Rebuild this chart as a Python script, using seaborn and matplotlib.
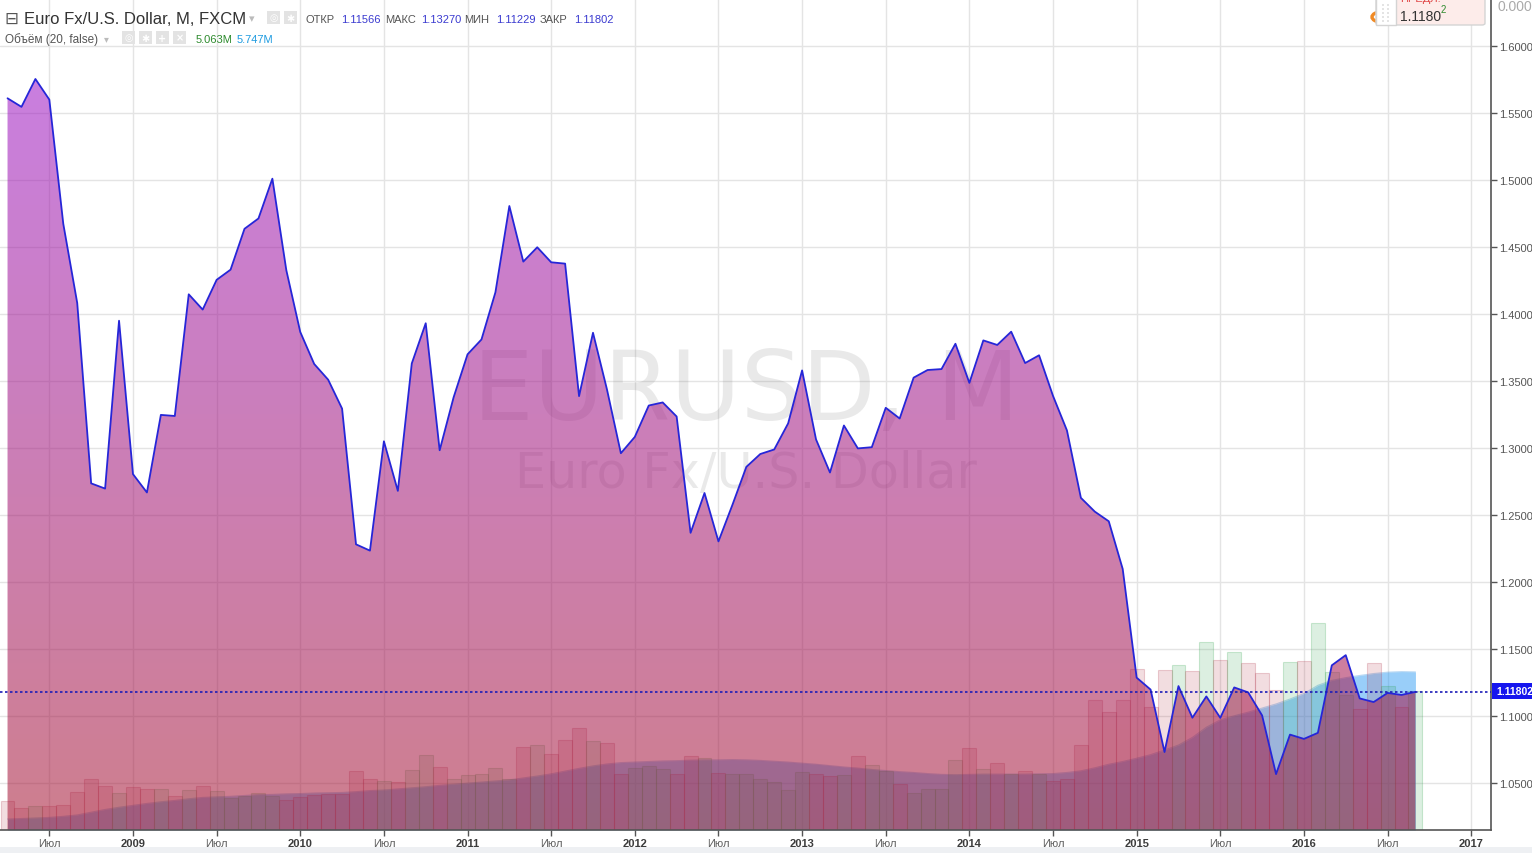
"""
plot.py
EURUSD monthly (FXCM) area chart with volume + 20-period volume MA,
TradingView-like look.
"""

import numpy as np
import pandas as pd
import matplotlib
matplotlib.use("Agg")
import matplotlib.pyplot as plt
from matplotlib.patches import Rectangle, FancyBboxPatch, Circle
import seaborn as sns

W, H = 1532, 854

# ─── Data (monthly, Apr 2008 .. Sep 2016) ──────────────────────────────────────
close_2008 = [1.5610, 1.5546, 1.5754, 1.5600, 1.4673, 1.4082, 1.2736, 1.2697, 1.3950]
close_2009 = [1.2805, 1.2668, 1.3247, 1.3239, 1.4147, 1.4033, 1.4255, 1.4331, 1.4636, 1.4713, 1.5010, 1.4327]
close_2010 = [1.3866, 1.3627, 1.3510, 1.3294, 1.2281, 1.2234, 1.3050, 1.2680, 1.3631, 1.3931, 1.2983, 1.3378]
close_2011 = [1.3699, 1.3810, 1.4162, 1.4806, 1.4391, 1.4498, 1.4386, 1.4376, 1.3387, 1.3860, 1.3438, 1.2961]
close_2012 = [1.3083, 1.3317, 1.3340, 1.3235, 1.2367, 1.2664, 1.2303, 1.2575, 1.2859, 1.2955, 1.2989, 1.3184]
close_2013 = [1.3579, 1.3064, 1.2817, 1.3168, 1.2997, 1.3006, 1.3300, 1.3220, 1.3525, 1.3582, 1.3589, 1.3778]
close_2014 = [1.3486, 1.3803, 1.3769, 1.3868, 1.3634, 1.3692, 1.3389, 1.3131, 1.2628, 1.2525, 1.2453, 1.2097]
close_2015 = [1.1286, 1.1197, 1.0731, 1.1223, 1.0987, 1.1146, 1.0986, 1.1213, 1.1176, 1.1004, 1.0566, 1.0861]
close_2016 = [1.0829, 1.0874, 1.1378, 1.1454, 1.1131, 1.1104, 1.1172, 1.1157, 1.1180]
close = np.array(close_2008 + close_2009 + close_2010 + close_2011 + close_2012
                 + close_2013 + close_2014 + close_2015 + close_2016)
prev_close_mar_2008 = 1.5787

# volume, millions
volume = np.array([
    1.05, 0.79, 0.86, 0.86, 0.90, 1.38, 1.85, 1.59, 1.34,
    1.56, 1.49, 1.49, 1.23, 1.45, 1.59, 1.41, 1.18, 1.25, 1.34, 1.23, 1.08,
    1.19, 1.27, 1.30, 1.30, 2.15, 1.85, 1.78, 1.74, 2.19, 2.73, 2.29, 1.85,
    2.00, 2.03, 2.26, 1.85, 3.02, 3.09, 2.76, 3.27, 3.71, 3.24, 3.16, 2.03,
    2.25, 2.32, 2.22, 2.03, 2.69, 2.62, 2.07, 2.03, 2.03, 1.85, 1.74, 1.46,
    2.11, 2.03, 1.96, 2.00, 2.69, 2.36, 2.14, 1.68, 1.34, 1.49, 1.49, 2.54,
    2.98, 2.22, 2.43, 2.03, 2.14, 2.03, 1.78, 1.85, 3.09, 4.74, 4.32, 4.74,
    5.88, 4.50, 5.84, 6.02, 5.80, 6.85, 6.20, 6.49, 6.09, 5.73, 5.12, 6.13,
    6.17, 7.55, 5.76, 4.94, 4.42, 6.09, 5.24, 4.48, 5.06,
])

# volume MA(20), millions
volume_ma = np.array([
    0.40, 0.42, 0.44, 0.46, 0.50, 0.55, 0.65, 0.75, 0.83,
    0.90, 0.97, 1.03, 1.08, 1.14, 1.19, 1.21, 1.23, 1.26, 1.29, 1.30, 1.32,
    1.33, 1.35, 1.36, 1.37, 1.40, 1.44, 1.46, 1.50, 1.54, 1.58, 1.63, 1.67,
    1.71, 1.75, 1.79, 1.83, 1.90, 1.97, 2.05, 2.15, 2.25, 2.34, 2.41, 2.46,
    2.48, 2.50, 2.52, 2.53, 2.55, 2.56, 2.56, 2.57, 2.56, 2.54, 2.51, 2.48,
    2.44, 2.40, 2.35, 2.30, 2.26, 2.21, 2.17, 2.13, 2.10, 2.06, 2.03, 2.02,
    2.03, 2.04, 2.04, 2.04, 2.04, 2.05, 2.06, 2.10, 2.16, 2.27, 2.40, 2.50,
    2.62, 2.75, 2.92, 3.10, 3.38, 3.75, 4.02, 4.17, 4.30, 4.45, 4.60, 4.78,
    4.98, 5.28, 5.46, 5.56, 5.64, 5.71, 5.76, 5.78, 5.77,
])

price_levels = [1.05, 1.10, 1.15, 1.20, 1.25, 1.30, 1.35, 1.40, 1.45, 1.50, 1.55, 1.60]
last_price = 1.11802
month_word = "Июл"

header_title = "Euro Fx/U.S. Dollar, M, FXCM"
ohlc_labels = ["ОТКР", "МАКС", "МИН", "ЗАКР"]
ohlc_values = ["1.11566", "1.13270", "1.11229", "1.11802"]
vol_title = "Объём (20, false)"
vol_last, vol_ma_last = "5.063M", "5.747M"

# ─── Helpers ───────────────────────────────────────────────────────────────────
def fx(px):
    return px / W


def fy(py):
    return 1 - py / H


FONT = ["Liberation Sans", "DejaVu Sans"]

sns.set_theme(style="white")
plt.rcParams["font.family"] = FONT

idx = np.arange(len(close))
months = pd.date_range("2008-04-01", periods=len(close) + 12, freq="MS")
x_lo, x_hi = -0.54, 106.42
p_lo, p_hi = 1.0149, 1.6351
v_hi = 831 / 27.4

fig = plt.figure(figsize=(W / 100, H / 100), dpi=100)
fig.patch.set_facecolor("white")
rect = [0, 23 / H, 1491 / W, 831 / H]
ax = fig.add_axes(rect)     # grid + time axis
vax = ax.twinx()            # volume + MA + watermark
lax = ax.twinx()            # price area, line, price scale

# ─── Grid / time axis ──────────────────────────────────────────────────────────
ax.set_xlim(x_lo, x_hi)
ax.set_ylim(p_lo, p_hi)
tick_pos, tick_lab, tick_bold = [], [], []
for i, m in enumerate(months):
    if i > x_hi:
        break
    if m.month == 1:
        tick_pos.append(i); tick_lab.append(str(m.year)); tick_bold.append(True)
    elif m.month == 7:
        tick_pos.append(i); tick_lab.append(month_word); tick_bold.append(False)
ax.set_xticks(tick_pos)
ax.set_xticklabels(tick_lab)
for lab, b in zip(ax.get_xticklabels(), tick_bold):
    lab.set_fontweight("bold" if b else "normal")
    lab.set_color("#3c3c3c" if b else "#606060")
    lab.set_fontsize(8)
ax.set_yticks(price_levels)
ax.tick_params(axis="y", left=False, labelleft=False)
ax.tick_params(axis="x", bottom=True, direction="out", length=4, width=1,
               color="#555555", pad=2)
ax.grid(True, color="#e4e4e4", lw=1)
ax.set_axisbelow(True)
for s in ax.spines.values():
    s.set_visible(False)

# ─── Volume bars + MA area ─────────────────────────────────────────────────────
up = np.r_[close[0] > prev_close_mar_2008, np.diff(close) > 0]
red = np.array([175, 45, 65]) / 255
green = np.array([40, 160, 70]) / 255
face = [(*(green if u else red), 0.16) for u in up]
edge = [(*(green if u else red), 0.22) for u in up]

vax.fill_between(idx, 0, volume_ma, color=(33 / 255, 150 / 255, 243 / 255, 0.46),
                 lw=0, zorder=2)
sns.lineplot(x=idx, y=volume_ma, ax=vax, color=(0.10, 0.50, 0.85, 0.30), lw=0.8, zorder=2)
vax.bar(idx, volume, width=1.0, color=face, edgecolor=edge, linewidth=0.8, zorder=3)
vax.set_xlim(x_lo, x_hi)
vax.set_ylim(0, v_hi)
vax.set_yticks([])
vax.set_ylabel("")
for s in vax.spines.values():
    s.set_visible(False)

# watermark (below the price area)
wm_color = (0.35, 0.35, 0.35, 0.13)
vax.text(fx(746), fy(420), "EURUSD, M", transform=fig.transFigure, ha="center",
         va="baseline", fontsize=69, color=wm_color, family="DejaVu Sans", zorder=4)
vax.text(fx(746), fy(488), "Euro Fx/U.S. Dollar", transform=fig.transFigure,
         ha="center", va="baseline", fontsize=35.5, color=wm_color,
         family="DejaVu Sans", zorder=4)

# ─── Price area (vertical gradient), line, scale ───────────────────────────────
poly = lax.fill_between(idx, close, p_lo - 0.2, facecolor="none", edgecolor="none")
t = np.linspace(0, 1, 256)[:, None]
top_c = np.array([156, 22, 214]) / 255
bot_c = np.array([166, 20, 48]) / 255
grad = np.zeros((256, 1, 4))
grad[:, 0, :3] = top_c * (1 - t) + bot_c * t
grad[:, 0, 3] = 0.55
im = lax.imshow(grad, extent=[x_lo, x_hi, p_lo, p_hi], aspect="auto",
                origin="upper", interpolation="bilinear", zorder=1)
im.set_clip_path(poly.get_paths()[0], transform=lax.transData)

sns.lineplot(x=idx, y=close, ax=lax, color="#2626d8", lw=1.3, zorder=5)
lax.axhline(last_price, color="#1c1cb8", lw=1.2, ls=(0, (1.5, 1.5)), zorder=6)
lax.set_xlim(x_lo, x_hi)
lax.set_ylim(p_lo, p_hi)
lax.set_yticks(price_levels)
lax.set_yticklabels([f"{v:.4f}" for v in price_levels], fontsize=8, color="#555555")
lax.tick_params(axis="y", right=True, direction="out", length=4, width=1,
                color="#555555", pad=2)
lax.set_ylabel("")
for s in ["top", "left"]:
    lax.spines[s].set_visible(False)
for s in ["right", "bottom"]:
    lax.spines[s].set_color("#555555")
    lax.spines[s].set_linewidth(1.2)

# last price label on the scale
fig.add_artist(Rectangle((fx(1492), fy(700)), 40 / W, 16 / H, transform=fig.transFigure,
                         facecolor="#1616ee", edgecolor="none", zorder=10))
fig.text(fx(1496), fy(692), "1.11802", fontsize=7.5, color="white", fontweight="bold",
         va="center", ha="left", zorder=11)

# ─── Header ────────────────────────────────────────────────────────────────────
fig.text(fx(4), fy(24), "⊟", fontsize=12, color="#555555", va="baseline",
         family="DejaVu Sans")
fig.text(fx(24), fy(24), header_title, fontsize=12, color="#333333", va="baseline")
fig.text(fx(249), fy(22), "▾", fontsize=8, color="#bbbbbb", va="baseline",
         family="DejaVu Sans")
for xp, g in [(267, "◎"), (284, "✱")]:
    fig.add_artist(Rectangle((fx(xp), fy(25)), 13 / W, 13 / H, transform=fig.transFigure,
                             facecolor="#e3e3e3", edgecolor="none"))
    fig.text(fx(xp + 6.5), fy(18.5), g, fontsize=7, color="white", ha="center",
             va="center", family="DejaVu Sans")

ohlc_x = [(306, 341), (385, 421), (464, 496), (540, 574)]
for (xl, xv), lab, val in zip(ohlc_x, ohlc_labels, ohlc_values):
    fig.text(fx(xl), fy(23), lab, fontsize=8, color="#555555", va="baseline")
    fig.text(fx(xv), fy(23), val, fontsize=8, color="#3b3bd0", va="baseline")

fig.text(fx(5), fy(43), vol_title, fontsize=8.5, color="#555555", va="baseline")
fig.text(fx(104), fy(42), "▾", fontsize=7, color="#bbbbbb", va="baseline",
         family="DejaVu Sans")
for xp, g in [(122, "◎"), (139, "✱"), (156, "+"), (173, "×")]:
    fig.add_artist(Rectangle((fx(xp), fy(45)), 13 / W, 13 / H, transform=fig.transFigure,
                             facecolor="#e3e3e3", edgecolor="none"))
    fig.text(fx(xp + 6.5), fy(38.5), g, fontsize=7, color="white", ha="center",
             va="center", family="DejaVu Sans", fontweight="bold")
fig.text(fx(196), fy(43), vol_last, fontsize=8, color="#2e8b2e", va="baseline")
fig.text(fx(237), fy(43), vol_ma_last, fontsize=8, color="#1e9be0", va="baseline")

# ─── Top-right widget ──────────────────────────────────────────────────────────
fig.add_artist(Circle((fx(1381), fy(18)), 9 / W, transform=fig.transFigure,
                      facecolor="none", edgecolor="#f08a24", lw=2.4, zorder=8))
fig.add_artist(FancyBboxPatch((fx(1376), fy(26)), 109 / W, 34 / H,
                              boxstyle="round,pad=0,rounding_size=0.002",
                              transform=fig.transFigure, facecolor="#fdecea",
                              edgecolor="#d4d4d4", lw=1, zorder=9))
fig.add_artist(Rectangle((fx(1376), fy(26)), 20 / W, 34 / H, transform=fig.transFigure,
                         facecolor="white", edgecolor="#d4d4d4", lw=1, zorder=9))
for gx in (1383, 1388):
    for gy in (6, 10, 14, 18, 22):
        fig.add_artist(Circle((fx(gx), fy(gy)), 0.9 / W, transform=fig.transFigure,
                              facecolor="#b5b5b5", edgecolor="none", zorder=10))
fig.text(fx(1400), fy(21), "1.1180", fontsize=10, color="#333333", va="baseline",
         zorder=11)
fig.text(fx(1441), fy(13), "2", fontsize=7, color="#2e8b2e", va="baseline", zorder=11)
fig.text(fx(1400), fy(2), "ПРЕДЛ.", fontsize=8, color="#e04848", va="baseline", zorder=11)
fig.text(fx(1497), fy(11), "0.0000", fontsize=10, color="#aaaaaa", va="baseline",
         zorder=11)

# bottom strip
fig.add_artist(Rectangle((0, 0), 1, 6 / H, transform=fig.transFigure,
                         facecolor="#eef0f3", edgecolor="none", zorder=0))

fig.savefig("out.png", dpi=100)
plt.close(fig)
